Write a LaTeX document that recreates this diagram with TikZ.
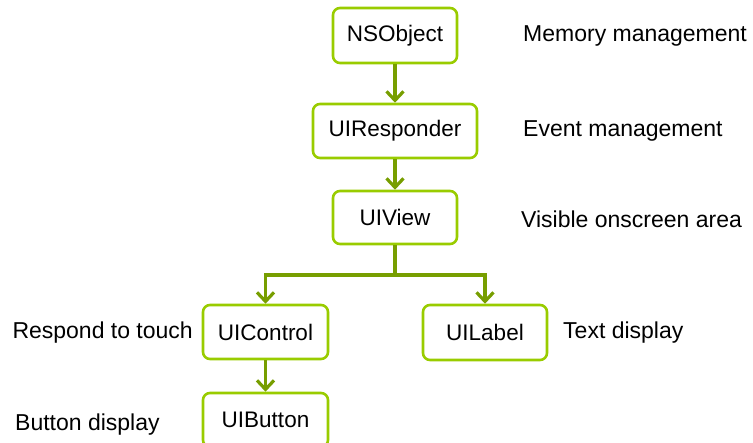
\documentclass[tikz,border=0pt]{standalone}
\usepackage{fontspec}
\setmainfont{Liberation Sans}
\usetikzlibrary{arrows.meta}
\definecolor{boxgreen}{RGB}{153,204,0}
\definecolor{arrgreen}{RGB}{119,158,0}
\begin{document}
\begin{tikzpicture}[x=1pt,y=-1pt,
  cls/.style={draw=boxgreen,line width=2.6pt,rounded corners=7pt,fill=white,
    inner sep=0pt,font=\fontsize{22.5}{26}\selectfont},
  lbl/.style={inner sep=0pt,font=\fontsize{23}{26}\selectfont},
  conn/.style={draw=arrgreen,line width=3.6pt,-{Straight Barb[length=9pt,width=17pt,line width=3.2pt]}}]
\useasboundingbox (0,0) rectangle (753,443);
\clip (0,0) rectangle (753,443);
\node[cls,minimum width=124pt,minimum height=55pt] (ns) at (395,35.5) {NSObject};
\node[cls,minimum width=164pt,minimum height=54pt] (resp) at (395,131) {UIResponder};
\node[cls,minimum width=124pt,minimum height=53pt] (view) at (395,217.5) {UIView};
\node[cls,minimum width=125pt,minimum height=54pt] (ctrl) at (265.5,332) {UIControl};
\node[cls,minimum width=124pt,minimum height=55pt] (label) at (485,332.5) {UILabel};
\node[cls,minimum width=125pt,minimum height=54pt] (btn) at (265.5,420) {UIButton};
\coordinate (split) at (395,275);
\draw[conn] (ns.south) -- (resp.north);
\draw[conn] (resp.south) -- (view.north);
\draw[draw=arrgreen,line width=3.6pt] (view.south) -- (split);
\draw[conn] (split) -| (ctrl.north);
\draw[conn] (split) -| (label.north);
\draw[conn] (ctrl.south) -- (btn.north);
\node[lbl,anchor=west] (t1) at (523,36) {Memory management};
\node[lbl,anchor=west] (t2) at (523,131) {Event management};
\node[lbl,anchor=west] (t3) at (521,219) {Visible onscreen area};
\node[lbl,anchor=east] (t4) at (193,333) {Respond to touch};
\node[lbl,anchor=west] (t5) at (563,333) {Text display};
\node[lbl,anchor=west] (t6) at (15,425) {Button display};
\end{tikzpicture}
\end{document}
